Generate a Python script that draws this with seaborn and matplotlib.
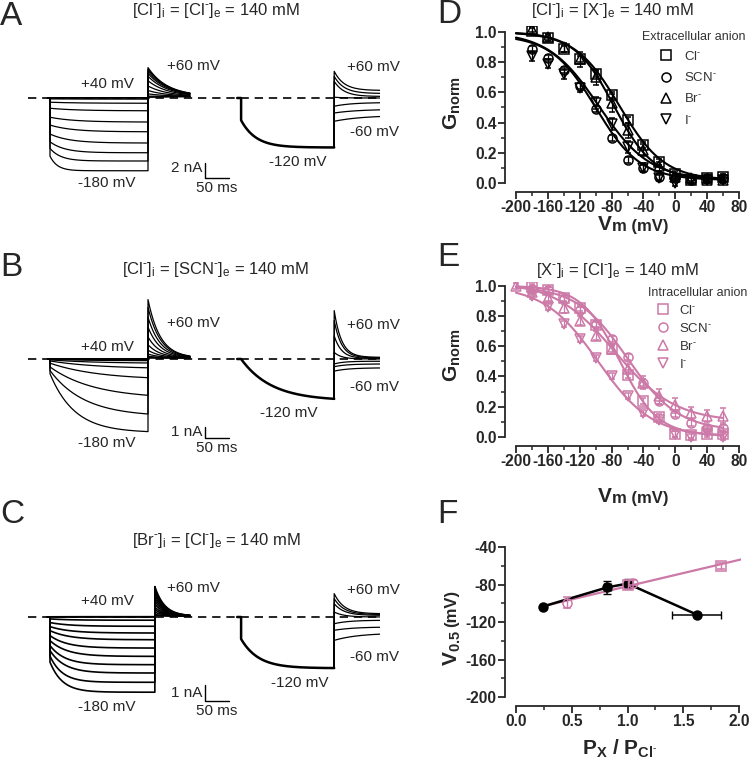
import numpy as np
import matplotlib
matplotlib.use("Agg")
import matplotlib.pyplot as plt
import seaborn as sns
from matplotlib.ticker import MultipleLocator
from matplotlib.lines import Line2D

sns.set_style("ticks")
plt.rcParams["font.family"] = ["Liberation Sans", "DejaVu Sans"]
plt.rcParams["mathtext.fontset"] = "custom"
plt.rcParams["mathtext.rm"] = "Liberation Sans"
plt.rcParams["mathtext.it"] = "Liberation Sans:italic"
plt.rcParams["mathtext.bf"] = "Liberation Sans:bold"
plt.rcParams["axes.unicode_minus"] = False

PINK = "#cc79a7"
W, H = 750, 764

# ---------------- current traces (nA / ms) ----------------
step_mv = [40, 20, 0, -20, -40, -60, -80, -100, -120, -140, -160, -180]
tail_mv = [60, 40, 20, 0, -20, -40, -60]

# A: [Cl-]i = [Cl-]e
a_end = [0.05, 0.02, 0.0, -0.15, -0.7, -1.7, -3.2, -4.5, -6.0, -7.3, -8.4, -9.7]
a_tau = [60, 60, 60, 60, 60, 55, 50, 45, 40, 30, 22, 15]
a_tail = [0.1, 0.12, 0.25, 0.55, 1.0, 1.6, 2.3, 2.9, 3.3, 3.6, 3.85, 4.05]
a_m120 = [-6.6, 0.45, 30]                      # asymptote, instant fraction, tau
a_t2_start = [3.56, 2.89, 2.22, 0.1, -1.1, -2.0, -3.1]
a_t2_end = [1.0, 0.6, 0.2, 0.0, -0.6, -1.5, -2.3]
a_t2_tau = [20, 20, 20, 20, 35, 50, 60]

# B: [Cl-]i = [SCN-]e
b_end = [0.02, 0.01, 0.0, -0.02, -0.06, -0.15, -0.36, -0.8, -1.7, -3.3, -5.0, -6.6]
b_tau = [80, 80, 80, 80, 80, 80, 90, 100, 100, 90, 70, 50]
b_tail = [0.1, 0.1, 0.15, 0.25, 0.45, 0.8, 1.3, 2.0, 2.9, 3.8, 4.7, 5.4]
b_m120 = [-3.8, 0.0, 62]
b_t2_start = [4.4, 3.5, 2.1, 0.6, -0.45, -0.7, -1.1]
b_t2_end = [0.15, 0.1, 0.05, 0.0, -0.2, -0.45, -0.8]
b_t2_tau = [15, 15, 15, 15, 20, 25, 30]

# C: [Br-]i = [Cl-]e
c_end = [0.02, 0.0, -0.2, -0.58, -1.0, -1.42, -1.94, -2.46, -2.98, -3.5, -4.08, -4.7]
c_tau = [40, 40, 40, 40, 40, 40, 35, 35, 30, 30, 25, 25]
c_tail = [0.1, 0.15, 0.3, 0.45, 0.6, 0.8, 1.0, 1.2, 1.4, 1.6, 1.75, 1.9]
c_m120 = [-3.2, 0.43, 35]
c_t2_start = [1.46, 1.15, 0.83, 0.31, -0.42, -0.83, -1.46]
c_t2_end = [0.2, 0.15, 0.1, 0.0, -0.2, -0.62, -1.0]
c_t2_tau = [20, 20, 20, 20, 30, 40, 50]

# ---------------- G-V data ----------------
v = [-180, -160, -140, -120, -100, -80, -60, -40, -20, 0, 20, 40, 60]
v_br_e = [-200] + v

d_cl = [1.01, 0.96, 0.89, 0.82, 0.72, 0.58, 0.42, 0.25, 0.14, 0.06, 0.02, 0.03, 0.04]
d_scn = [0.89, 0.83, 0.75, 0.64, 0.49, 0.30, 0.15, 0.10, 0.04, 0.03, 0.02, 0.03, 0.03]
d_br = [1.02, 0.97, 0.90, 0.82, 0.70, 0.53, 0.35, 0.22, 0.11, 0.04, 0.03, 0.02, 0.02]
d_i = [0.84, 0.79, 0.72, 0.63, 0.53, 0.39, 0.24, 0.10, 0.03, 0.00, 0.02, 0.02, 0.02]
d_cl_err = [0.02] * 13
d_scn_err = [0.02] * 13
d_br_err = [0.02, 0.02, 0.03, 0.05, 0.05, 0.06, 0.05, 0.04, 0.03, 0.02, 0.02, 0.02, 0.02]
d_i_err = [0.03, 0.03, 0.03, 0.03, 0.04, 0.04, 0.04, 0.03, 0.02, 0.02, 0.02, 0.02, 0.02]
# Boltzmann fits: V1/2, slope, Gmin, Gmax
d_fit = {"Cl": [-70, 28, 0.02, 1.0], "SCN": [-100, 28, 0.02, 0.98],
         "Br": [-77, 25, 0.02, 1.0], "I": [-96, 32, 0.02, 1.0]}

e_cl = [0.99, 0.97, 0.92, 0.85, 0.74, 0.58, 0.41, 0.24, 0.13, 0.02, 0.01, 0.02, 0.02]
e_scn = [0.98, 0.97, 0.91, 0.84, 0.75, 0.65, 0.53, 0.36, 0.24, 0.15, 0.09, 0.06, 0.06]
e_br = [1.0, 0.96, 0.92, 0.85, 0.77, 0.67, 0.58, 0.45, 0.36, 0.27, 0.21, 0.16, 0.14, 0.14]
e_i = [0.93, 0.86, 0.75, 0.65, 0.52, 0.40, 0.27, 0.16, 0.11, 0.02, 0.0, 0.03, 0.0]
e_cl_err = [0.02] * 13
e_scn_err = [0.02] * 13
e_br_err = [0.02, 0.02, 0.02, 0.03, 0.03, 0.03, 0.03, 0.03, 0.04, 0.05, 0.05, 0.04, 0.04, 0.05]
e_i_err = [0.02] * 13
e_fit = {"Cl": [-70, 24, 0.01, 1.0], "SCN": [-60, 32, 0.04, 1.0],
         "Br": [-76, 38, 0.10, 1.03], "I": [-97, 34, 0.0, 1.0]}

# ---------------- V1/2 vs permeability ratio ----------------
f_p_ext = [0.24, 0.82, 1.00, 1.62]
f_v_ext = [-103.5, -83, -79, -112]
f_v_ext_err = [1, 7, 5, 2]
f_p_ext_err = [0, 0.03, 0, 0.22]
f_p_int = [0.46, 1.00, 1.05, 1.84]
f_v_int = [-99.5, -80, -78, -60]
f_v_int_err = [6, 5, 3, 3]
f_int_marker = ["o", "s", "o", "s"]

anions = ["Cl", "SCN", "Br", "I"]
markers = {"Cl": "s", "SCN": "o", "Br": "^", "I": "v"}
SUP = r"$^{\text{-}}$"
anion_labels = ["Cl" + SUP, "SCN" + SUP, "Br" + SUP, "I" + SUP]

fig = plt.figure(figsize=(W / 100, H / 100), dpi=100)


def fx(x):
    return x / W


def fy(y):
    return 1 - y / H


def ftext(x, y, s, **kw):
    kw.setdefault("va", "center")
    kw.setdefault("fontsize", 11)
    fig.text(fx(x), fy(y), s, **kw)


def conc(a, b):
    return "[" + a + SUP + r"]$_{\rm i}$ = [" + b + SUP + r"]$_{\rm e}$ = 140 mM"


def relax(t, i0, i_inf, tau):
    return i_inf + (i0 - i_inf) * np.exp(-t / tau)


PXMS = 0.49          # px per ms in the trace panels
T2, DUR2 = 390.0, 190.0
TAIL_END = (190 - 50) / PXMS


def trace_panel(top, bot, base, scale, dur1, ends, inst, taus, tails, ttau, tinf,
                m120, t2s, t2e, t2tau, bar_na, bar_y, lw=0.9):
    ax = fig.add_axes([0, fy(bot), fx(380), (bot - top) / H])
    ax.set_xlim(-50 / PXMS, 330 / PXMS)
    ax.set_ylim((base - bot) / scale, (base - top) / scale)
    ax.axis("off")
    ax.plot([-45, 700], [0, 0], color="k", lw=1.2, ls=(0, (5, 3.5)), zorder=1)

    ta = np.linspace(0, dur1, 400)
    tb = np.linspace(0, TAIL_END - dur1, 200)
    for e, tau, pk in zip(ends, taus, tails):
        amp = e / (1 - (1 - inst) * np.exp(-dur1 / tau))
        ia = amp * (1 - (1 - inst) * np.exp(-ta / tau))
        ib = relax(tb, pk, tinf, ttau)
        ax.plot(np.r_[-5, 0, ta, dur1 + tb], np.r_[0, 0, ia, ib], color="k", lw=lw)

    ss, inst2, tau2 = m120
    tc = np.linspace(0, DUR2, 300)
    ic = ss * (1 - (1 - inst2) * np.exp(-tc / tau2))
    ax.plot(np.r_[T2 - 8, T2, T2 + tc], np.r_[0, 0, ic], color="k", lw=1.8)
    td = np.linspace(0, 150, 200)
    for i0, iinf, tau in zip(t2s, t2e, t2tau):
        ax.plot(np.r_[T2 + DUR2, T2 + DUR2 + td], np.r_[ic[-1], relax(td, i0, iinf, tau)],
                color="k", lw=0.9)

    # scale bar
    ax.plot([316, 316, 366], [bar_y + bar_na, bar_y, bar_y], color="k", lw=1.0)
    return ax


trace_panel(40, 200, 98, 7.5, 200, a_end, 0.8, a_tau, a_tail, 40, 0.2,
            a_m120, a_t2_start, a_t2_end, a_t2_tau, 2, -10.67)
trace_panel(290, 460, 359, 11.0, 200, b_end, 0.2, b_tau, b_tail, 25, 0.1,
            b_m120, b_t2_start, b_t2_end, b_t2_tau, 1, -7.18)
trace_panel(550, 720, 617, 16.0, 214, c_end, 0.6, c_tau, c_tail, 20, 0.05,
            c_m120, c_t2_start, c_t2_end, c_t2_tau, 1, -5.25, lw=1.2)

# trace labels
for (ty, y40, y60, y180, x120, y120, yr60, ym60, ynA, yms, bar, title) in [
        (15, 84, 66, 183, 298, 162, 67, 132, 168, 188, "2 nA", conc("Cl", "Cl")),
        (274, 347, 323, 443, 289, 413, 325, 387, 432, 448, "1 nA", conc("Cl", "SCN")),
        (545, 601, 588, 707, 300, 683, 590, 657, 693, 711, "1 nA", conc("Br", "Cl"))]:
    ftext(216, ty, title, ha="center", va="baseline", fontsize=12)
    ftext(107, y40, "+40 mV", ha="center")
    ftext(193, y60, "+60 mV", ha="center")
    ftext(107, y180, "-180 mV", ha="center")
    ftext(x120, y120, "-120 mV", ha="center")
    ftext(347, yr60, "+60 mV", ha="left")
    ftext(350, ym60, "-60 mV", ha="left")
    ftext(202, ynA, bar, ha="right")
    ftext(217, yms, "50 ms", ha="center")

for letter, x, y in [("A", 0, 25), ("B", 0, 276), ("C", 0, 523),
                     ("D", 437, 23), ("E", 437, 266), ("F", 437, 523)]:
    ftext(x, y, letter, ha="left", va="baseline", fontsize=24)

ftext(613, 15, conc("Cl", "X"), ha="center", va="baseline", fontsize=12)
ftext(618, 275, conc("X", "Cl"), ha="center", va="baseline", fontsize=12)


# ---------------- right column ----------------
def add_ax(l, t, r, b):
    return fig.add_axes([fx(l), fy(b), (r - l) / W, (b - t) / H])


def style(ax, xb, yb, xmaj, xmin, ymaj, ymin):
    sns.despine(ax=ax)
    ax.set_facecolor("none")
    ax.spines["left"].set_bounds(*yb)
    ax.spines["bottom"].set_bounds(*xb)
    for s in ("left", "bottom"):
        ax.spines[s].set_linewidth(1.3)
    ax.xaxis.set_major_locator(MultipleLocator(xmaj))
    ax.xaxis.set_minor_locator(MultipleLocator(xmin))
    ax.yaxis.set_major_locator(MultipleLocator(ymaj))
    ax.yaxis.set_minor_locator(MultipleLocator(ymin))
    ax.tick_params(which="major", length=5, width=1.3, labelsize=11.2, pad=1)
    ax.tick_params(which="minor", length=3, width=1.1)
    ax.set_xlabel("")
    ax.set_ylabel("")
    plt.setp(ax.get_xticklabels() + ax.get_yticklabels(), fontweight="bold")


def boltz(vv, vh, k, gmin, gmax):
    return gmin + (gmax - gmin) / (1 + np.exp((vv - vh) / k))


def gv_panel(ax, series, fits, color):
    vv = np.linspace(-200, 60, 300)
    for name in anions:
        sns.lineplot(x=vv, y=boltz(vv, *fits[name]), color=color, lw=1.5, ax=ax)
    for name in anions:
        xs, ys, err = series[name]
        ax.errorbar(xs, ys, yerr=err, fmt=markers[name], mfc="none", mec=color,
                    ecolor=color, ms=6.5, mew=1.1, capsize=2, elinewidth=0.9, zorder=3)
    ax.set_xlim(-213.8, 82.5)


axD = add_ax(505, 26, 741, 192)
gv_panel(axD, {"Cl": (v, d_cl, d_cl_err), "SCN": (v, d_scn, d_scn_err),
               "Br": (v, d_br, d_br_err), "I": (v, d_i, d_i_err)}, d_fit, "k")
axD.set_ylim(-0.06, 1.04)
style(axD, (-200, 80), (0, 1), 40, 20, 0.2, 0.1)

axE = add_ax(505, 282, 741, 446)
gv_panel(axE, {"Cl": (v, e_cl, e_cl_err), "SCN": (v, e_scn, e_scn_err),
               "Br": (v_br_e, e_br, e_br_err), "I": (v, e_i, e_i_err)}, e_fit, PINK)
axE.set_ylim(-0.06, 1.025)
style(axE, (-200, 80), (0, 1), 40, 20, 0.2, 0.1)


def legend(ax, color, x, y, spacing, pad):
    hs = [Line2D([], [], ls="", marker=markers[a], mfc="none", mec=color, ms=6.5, mew=1.1)
          for a in anions]
    ax.legend(hs, anion_labels, loc="upper left", bbox_to_anchor=(fx(x), fy(y)),
              bbox_transform=fig.transFigure, frameon=False, borderpad=0, borderaxespad=0,
              handlelength=1.0, handletextpad=pad, labelspacing=spacing, fontsize=9.5,
              labelcolor="#333333")


legend(axD, "k", 659, 50, 0.62, 0.9)
ftext(642, 37, "Extracellular anion", ha="left", fontsize=9, color="#333333")
legend(axE, PINK, 656, 304, 0.38, 0.75)
ftext(648, 293, "Intracellular anion", ha="left", fontsize=9, color="#333333")

axF = add_ax(505, 543, 741, 706)
pp = np.array(f_p_int)
slope, icpt = np.polyfit(pp, np.array(f_v_int), 1)
xl = np.array([0.25, 2.02])
sns.lineplot(x=xl, y=slope * xl + icpt, color=PINK, lw=1.6, ax=axF)
sns.lineplot(x=f_p_ext, y=f_v_ext, color="k", lw=1.8, ax=axF, sort=False)
axF.errorbar(f_p_ext, f_v_ext, yerr=f_v_ext_err, xerr=f_p_ext_err, fmt="o", color="k",
             ms=6.5, capsize=3, elinewidth=1.1, zorder=3)
for p, vv, e, m in zip(f_p_int, f_v_int, f_v_int_err, f_int_marker):
    axF.errorbar([p], [vv], yerr=[e], fmt=m, mfc="none", mec=PINK, ecolor=PINK,
                 ms=6.5, mew=1.1, capsize=3, elinewidth=1.0, zorder=4)
axF.set_xlim(-0.099, 2.018)
axF.set_ylim(-209.6, -35.7)
style(axF, (0, 2), (-200, -40), 0.5, 0.25, 40, 20)

# axis titles
for yc in (103, 355):
    ftext(452, yc, r"$\mathbf{G_{norm}}$", ha="center", rotation=90, fontsize=15)
for yc in (225, 497):
    ftext(598, yc, "V", ha="left", fontsize=15, fontweight="bold")
    ftext(612, yc + 1.5, "m (mV)", ha="left", fontsize=12, fontweight="bold")
ftext(452, 648, r"$\mathbf{V_{0.5}}$", ha="center", rotation=90, fontsize=15)
ftext(452, 608, "(mV)", ha="center", rotation=90, fontsize=12, fontweight="bold")
ftext(620, 749, r"$\mathbf{P_{X}\ /\ P_{Cl^{\text{-}}}}$", ha="center", fontsize=15)

fig.savefig("out.png", dpi=100)
